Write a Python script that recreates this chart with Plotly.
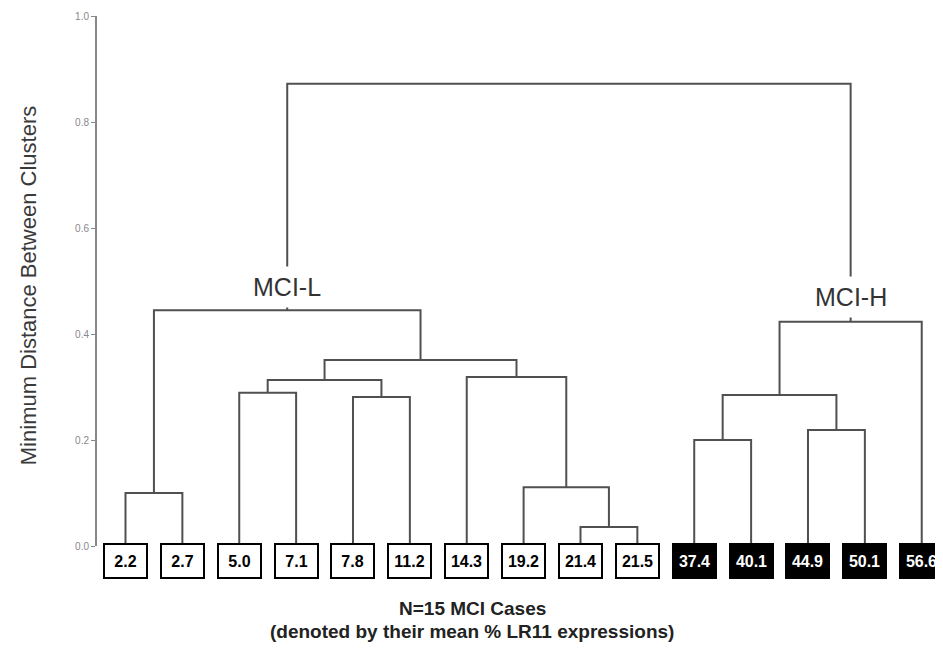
import plotly.graph_objects as go

# ---- data ----
leaf_labels = ["2.2", "2.7", "5.0", "7.1", "7.8", "11.2", "14.3", "19.2",
               "21.4", "21.5", "37.4", "40.1", "44.9", "50.1", "56.6"]
leaf_group = ["L"] * 10 + ["H"] * 5
# linkage: (child_a, child_b, height); leaves are 0..14, new nodes 15,16,...
merge_a = [0, 2, 4, 16, 8, 7, 6, 18, 15, 10, 12, 24, 26, 23]
merge_b = [1, 3, 5, 17, 9, 19, 20, 21, 22, 11, 13, 25, 14, 27]
merge_h = [0.100, 0.289, 0.281, 0.313, 0.036, 0.111, 0.319, 0.351, 0.445,
           0.200, 0.219, 0.285, 0.423, 0.872]
cluster_names = ["MCI-L", "MCI-H"]
cluster_nodes = [23, 27]
cluster_label_y = [0.489, 0.470]
y_ticks = [0.0, 0.2, 0.4, 0.6, 0.8, 1.0]
y_ticktext = ["0.0", "0.2", "0.4", "0.6", "0.8", "1.0"]

# ---- build dendrogram geometry ----
n = len(leaf_labels)
node_x = {i: float(i) for i in range(n)}
node_h = {i: 0.0 for i in range(n)}
xs, ys = [], []
for k, (a, b, h) in enumerate(zip(merge_a, merge_b, merge_h)):
    nid = n + k
    xa, xb = node_x[a], node_x[b]
    xs += [xa, xa, xb, xb, None]
    ys += [node_h[a], h, h, node_h[b], None]
    node_x[nid] = (xa + xb) / 2
    node_h[nid] = h

LINE = "#505050"
fig = go.Figure()
fig.add_trace(go.Scatter(x=xs, y=ys, mode="lines",
                         line=dict(color=LINE, width=2),
                         hoverinfo="skip", showlegend=False))

annotations = []
# leaf boxes
for i, (lab, g) in enumerate(zip(leaf_labels, leaf_group)):
    dark = g == "H"
    annotations.append(dict(
        x=i, xref="x", y=0, yref="paper", yanchor="top", yshift=3,
        text=lab, showarrow=False,
        font=dict(family="Liberation Sans Narrow, Arial Narrow, Arial", size=16,
                  color="white" if dark else "black", weight="bold"),
        bgcolor="black" if dark else "white",
        bordercolor="black", borderwidth=2, borderpad=1,
        width=39, height=30, align="center", valign="middle"))

# cluster labels
for name, nid, ly in zip(cluster_names, cluster_nodes, cluster_label_y):
    annotations.append(dict(
        x=node_x[nid], xref="x", y=ly, yref="y", text=name, showarrow=False,
        font=dict(family="Arial, Liberation Sans", size=25, color="#333333"),
        bgcolor="white", height=38, xanchor="center", yanchor="middle"))

# y title
annotations.append(dict(
    x=-0.0816, xref="paper", y=0.492, yref="paper",
    text="Minimum Distance Between Clusters", textangle=-90, showarrow=False,
    font=dict(family="Arial, Liberation Sans", size=22, color="#3a3a3a"),
    xanchor="center", yanchor="middle"))

# x title
annotations.append(dict(
    x=0.4433, xref="paper", y=-0.117, yref="paper", yanchor="middle",
    text="<b>N=15 MCI Cases</b>", showarrow=False,
    font=dict(family="Arial, Liberation Sans", size=19, color="#222222")))
annotations.append(dict(
    x=0.4433, xref="paper", y=-0.162, yref="paper", yanchor="middle",
    text="<b>(denoted by their mean % LR11 expressions)</b>", showarrow=False,
    font=dict(family="Arial, Liberation Sans", size=19, color="#222222")))

# the page adds an 8px body margin, so the figure is 8px smaller than the window
fig.update_layout(
    width=935, height=640,
    margin=dict(l=89, r=0, t=8, b=102),
    paper_bgcolor="white", plot_bgcolor="white",
    showlegend=False,
    xaxis=dict(visible=False, range=[-0.501, 14.374]),
    yaxis=dict(range=[0, 1], tickvals=y_ticks, ticktext=y_ticktext,
               showline=True, linecolor="#888888", linewidth=2,
               ticks="outside", ticklen=4, tickcolor="#888888", tickwidth=1,
               tickfont=dict(family="Arial, Liberation Sans", size=10, color="#888888"),
               showgrid=False, zeroline=False),
    annotations=annotations,
)

fig.write_html("out.html")
